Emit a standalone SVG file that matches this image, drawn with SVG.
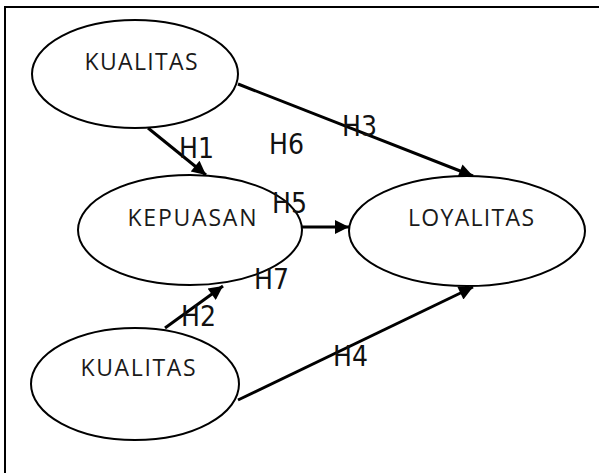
<svg xmlns="http://www.w3.org/2000/svg" width="599" height="473" viewBox="0 0 599 473">
  <style>
    .frame { fill: #fff; stroke: #000; stroke-width: 2; }
    .node ellipse { fill: #fff; stroke: #000; stroke-width: 2; }
    .node text { font-family: "Open Sans", "Liberation Sans", sans-serif; font-weight: 400; font-size: 23px; fill: #1a1a1a; text-anchor: middle; }
    .edge { stroke: #000; stroke-width: 3; fill: none; marker-end: url(#head); }
    .lbl { font-family: "DejaVu Sans", "Liberation Sans", sans-serif; font-stretch: condensed; font-size: 28px; fill: #111; }
  </style>
  <defs>
    <marker id="head" viewBox="0 0 10 10" refX="10" refY="5" markerUnits="userSpaceOnUse" markerWidth="16" markerHeight="14" orient="auto">
      <path d="M0,0 L10,5 L0,10 Z" fill="#000"/>
    </marker>
  </defs>

  <rect class="frame" x="5" y="7" width="600" height="470"/>

  <g id="connectors">
    <line class="edge" x1="238" y1="84" x2="473" y2="176"/>
    <line class="edge" x1="148" y1="128" x2="206" y2="175"/>
    <line class="edge" x1="302" y1="227" x2="349" y2="227"/>
    <line class="edge" x1="165" y1="328" x2="223" y2="286"/>
    <line class="edge" x1="238" y1="400" x2="473" y2="287"/>
  </g>

  <g id="kualitas-top" class="node">
    <ellipse cx="135" cy="74" rx="103" ry="54"/>
    <text x="141" y="70" textLength="113" lengthAdjust="spacing">KUALITAS</text>
  </g>
  <g id="kepuasan" class="node">
    <ellipse cx="190" cy="230" rx="112" ry="55"/>
    <text x="192" y="226" textLength="129" lengthAdjust="spacing">KEPUASAN</text>
  </g>
  <g id="loyalitas" class="node">
    <ellipse cx="467" cy="231" rx="118" ry="55"/>
    <text x="471" y="226" textLength="126" lengthAdjust="spacing">LOYALITAS</text>
  </g>
  <g id="kualitas-bottom" class="node">
    <ellipse cx="135" cy="384" rx="104" ry="56"/>
    <text x="138" y="376" textLength="115" lengthAdjust="spacing">KUALITAS</text>
  </g>

  <g id="labels">
    <text class="lbl" x="179" y="158">H1</text>
    <text class="lbl" x="269" y="154">H6</text>
    <text class="lbl" x="342" y="136">H3</text>
    <text class="lbl" x="272" y="213">H5</text>
    <text class="lbl" x="254" y="289">H7</text>
    <text class="lbl" x="181" y="326">H2</text>
    <text class="lbl" x="333" y="366">H4</text>
  </g>
</svg>
